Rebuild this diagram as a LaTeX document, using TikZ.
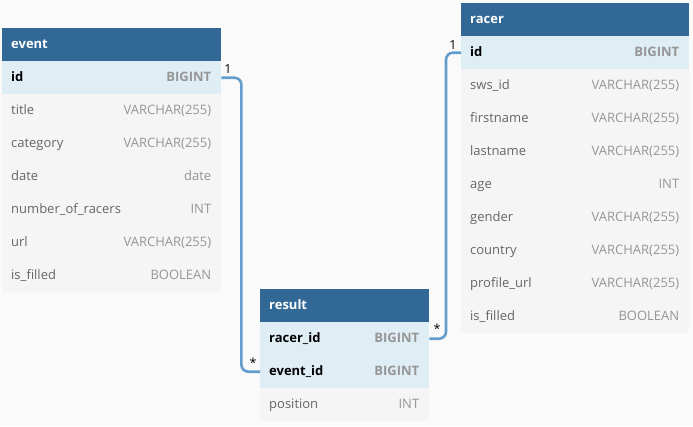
\documentclass[tikz,border=0pt]{standalone}
\usepackage{fontspec}
\setmainfont{Open Sans}

\definecolor{headblue}{RGB}{49,104,150}
\definecolor{keyrow}{RGB}{223,237,245}
\definecolor{plainrow}{RGB}{245,245,245}
\definecolor{pagebg}{RGB}{250,250,250}
\definecolor{linkblue}{RGB}{99,157,205}
\definecolor{namegray}{RGB}{102,102,102}
\definecolor{typegray}{RGB}{150,150,150}

\tikzset{
  tblhead/.style={fill=headblue, text=white, font=\bfseries\fontsize{13}{15}\selectfont,
    anchor=north west, minimum height=33pt, inner xsep=9pt, inner ysep=0pt,
    text height=9.5pt, text depth=1.5pt, text width=#1, align=left},
  keyfield/.style={fill=keyrow, text=black, font=\bfseries\fontsize{13}{15}\selectfont,
    anchor=north west, minimum height=33pt, inner xsep=9pt, inner ysep=0pt,
    text height=9.5pt, text depth=1.5pt, text width=#1, align=left},
  field/.style={fill=plainrow, text=namegray, font=\fontsize{13}{15}\selectfont,
    anchor=north west, minimum height=33pt, inner xsep=9pt, inner ysep=0pt,
    text height=9.5pt, text depth=1.5pt, text width=#1, align=left},
  keytype/.style={text=typegray, font=\bfseries\fontsize{13}{15}\selectfont, anchor=east,
    inner sep=0pt, text height=9.5pt, text depth=1.5pt},
  fieldtype/.style={text=typegray, font=\fontsize{13}{15}\selectfont, anchor=east,
    inner sep=0pt, text height=9.5pt, text depth=1.5pt},
  link/.style={draw=linkblue, line width=2.6pt, rounded corners=7pt},
  card/.style={font=\fontsize{12.5}{14}\selectfont, inner sep=0pt}
}

\begin{document}
\begin{tikzpicture}[x=1pt,y=-1pt]
  \fill[pagebg] (0,0) rectangle (693,426);
  \useasboundingbox (0,0) rectangle (693,426);

% event
\node[tblhead=201pt] (ev) at (2,28) {event};
\node[keyfield=201pt] (ev-id) at (2,61) {id};
\node[field=201pt] (ev-title) at (2,94) {title};
\node[field=201pt] (ev-cat) at (2,127) {category};
\node[field=201pt] (ev-date) at (2,160) {date};
\node[field=201pt] (ev-num) at (2,193) {number\_of\_racers};
\node[field=201pt] (ev-url) at (2,226) {url};
\node[field=201pt] (ev-fill) at (2,259) {is\_filled};

\node[keytype] (ev-id-t) at ([xshift=-10pt]ev-id.east) {BIGINT};
\node[fieldtype] (ev-title-t) at ([xshift=-10pt]ev-title.east) {VARCHAR(255)};
\node[fieldtype] (ev-cat-t) at ([xshift=-10pt]ev-cat.east) {VARCHAR(255)};
\node[fieldtype] (ev-date-t) at ([xshift=-10pt]ev-date.east) {date};
\node[fieldtype] (ev-num-t) at ([xshift=-10pt]ev-num.east) {INT};
\node[fieldtype] (ev-url-t) at ([xshift=-10pt]ev-url.east) {VARCHAR(255)};
\node[fieldtype] (ev-fill-t) at ([xshift=-10pt]ev-fill.east) {BOOLEAN};

% racer
\node[tblhead=210pt] (ra) at (461,3) {racer};
\node[keyfield=210pt] (ra-id) at (461,36) {id};
\node[field=210pt] (ra-sws) at (461,69) {sws\_id};
\node[field=210pt] (ra-first) at (461,102) {firstname};
\node[field=210pt] (ra-last) at (461,135) {lastname};
\node[field=210pt] (ra-age) at (461,168) {age};
\node[field=210pt] (ra-gender) at (461,201) {gender};
\node[field=210pt] (ra-country) at (461,234) {country};
\node[field=210pt] (ra-url) at (461,267) {profile\_url};
\node[field=210pt] (ra-fill) at (461,300) {is\_filled};

\node[keytype] (ra-id-t) at ([xshift=-10pt]ra-id.east) {BIGINT};
\node[fieldtype] (ra-sws-t) at ([xshift=-10pt]ra-sws.east) {VARCHAR(255)};
\node[fieldtype] (ra-first-t) at ([xshift=-10pt]ra-first.east) {VARCHAR(255)};
\node[fieldtype] (ra-last-t) at ([xshift=-10pt]ra-last.east) {VARCHAR(255)};
\node[fieldtype] (ra-age-t) at ([xshift=-10pt]ra-age.east) {INT};
\node[fieldtype] (ra-gender-t) at ([xshift=-10pt]ra-gender.east) {VARCHAR(255)};
\node[fieldtype] (ra-country-t) at ([xshift=-10pt]ra-country.east) {VARCHAR(255)};
\node[fieldtype] (ra-url-t) at ([xshift=-10pt]ra-url.east) {VARCHAR(255)};
\node[fieldtype] (ra-fill-t) at ([xshift=-10pt]ra-fill.east) {BOOLEAN};

% result
\node[tblhead=151pt] (re) at (260,289) {result};
\node[keyfield=151pt] (re-racer) at (260,322) {racer\_id};
\node[keyfield=151pt] (re-event) at (260,355) {event\_id};
\node[field=151pt] (re-pos) at (260,388) {position};

\node[keytype] (re-racer-t) at ([xshift=-10pt]re-racer.east) {BIGINT};
\node[keytype] (re-event-t) at ([xshift=-10pt]re-event.east) {BIGINT};
\node[fieldtype] (re-pos-t) at ([xshift=-10pt]re-pos.east) {INT};

% relations
\draw[link] (ev-id.east) -- ++(20,0) |- (re-event.west);
\draw[link] (ra-id.west) -- ++(-15,0) |- (re-racer.east);

\node[card] (ev-one) at (228,69) {1};
\node[card] (ev-many) at (253,363) {*};
\node[card] (ra-one) at (453,45) {1};
\node[card] (ra-many) at (437,329) {*};

\end{tikzpicture}
\end{document}
